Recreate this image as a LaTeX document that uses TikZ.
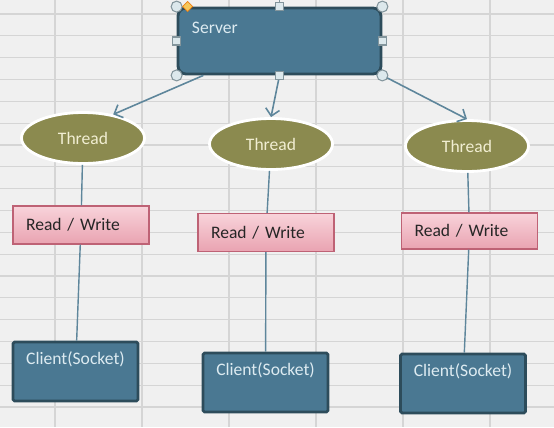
\documentclass[tikz,border=0pt]{standalone}
\usepackage{fontspec}
\setmainfont{Carlito}
\usepackage{tikz}
\usetikzlibrary{calc,arrows.meta,shapes.geometric}
\definecolor{sheet}{HTML}{F0F0F0}
\definecolor{gridln}{HTML}{D5D5D5}
\definecolor{boxfill}{HTML}{4A7892}
\definecolor{boxedge}{HTML}{2D4C5B}
\definecolor{boxtext}{HTML}{DDEBF1}
\definecolor{olive}{HTML}{8B8A4F}
\definecolor{olivetext}{HTML}{F1EED2}
\definecolor{pinktop}{HTML}{F8D3DA}
\definecolor{pinkbot}{HTML}{E9A3B1}
\definecolor{pinkedge}{HTML}{BE6275}
\definecolor{link}{HTML}{5E869B}
\definecolor{handle}{HTML}{DCE8EC}
\definecolor{handleedge}{HTML}{83959C}
\definecolor{gold}{HTML}{F5C75A}
\tikzset{
  gridline/.style={draw=gridln, line width=0.7pt},
  txt/.style={font=\fontsize{10}{12}\selectfont},
  serverbox/.style={draw=boxedge, fill=boxfill, line width=1.6pt, rounded corners=0.16cm, minimum width=4.06cm, minimum height=1.32cm, inner sep=0pt},
  clientbox/.style={draw=boxedge, fill=boxfill, line width=1.6pt, rounded corners=0.03cm, minimum width=2.5cm, minimum height=1.18cm, inner sep=0pt},
  boxlbl/.style={txt, text=boxtext, inner sep=0pt},
  thread/.style={ellipse, draw=white, fill=olive, line width=1.6pt, minimum width=2.46cm, minimum height=1.02cm, inner sep=0pt, txt, text=olivetext},
  rwbox/.style={draw=pinkedge, top color=pinktop, bottom color=pinkbot, line width=0.7pt, minimum width=2.72cm, minimum height=0.76cm, inner xsep=0.26cm, text width=2.2cm, align=left, txt, text=black!85},
  arrow/.style={draw=link, line width=0.9pt, -{Straight Barb[length=4pt,width=8pt]}},
  wire/.style={draw=link, line width=0.8pt},
  handlec/.style={draw=handleedge, fill=handle, line width=0.6pt},
}
\begin{document}
\begin{tikzpicture}[x=0.02cm, y=-0.02cm]
  \fill[sheet] (0,0) rectangle (554,427);
  \useasboundingbox (0,0) rectangle (554,427);
  \foreach \x in {55,142,229,316,403,490} {\draw[gridline] (\x,0) -- (\x,427);}
  \foreach \k in {0,...,18} {\draw[gridline] (0,14+21.83*\k) -- (554,14+21.83*\k);}

  \node[serverbox, label={[boxlbl, anchor=west, xshift=0.3cm, yshift=-0.42cm]north west:Server}] (server) at (279.5,41) {};
  \node[thread] (t1) at (83,138) {Thread};
  \node[thread] (t2) at (271,144) {Thread};
  \node[thread] (t3) at (467,146) {Thread};
  \node[rwbox] (rw1) at (81,225) {Read / Write};
  \node[rwbox] (rw2) at (266,232.5) {Read / Write};
  \node[rwbox, minimum width=2.7cm, minimum height=0.72cm] (rw3) at (469.5,231) {Read / Write};
  \node[clientbox, label={[boxlbl, anchor=center, yshift=-0.38cm]north:Client(Socket)}] (c1) at (75.5,371.5) {};
  \node[clientbox, label={[boxlbl, anchor=center, yshift=-0.38cm]north:Client(Socket)}] (c2) at (265.5,382.5) {};
  \node[clientbox, label={[boxlbl, anchor=center, yshift=-0.38cm]north:Client(Socket)}] (c3) at (463,383.5) {};

  \draw[arrow] ($(server.south west)!0.13!(server.south east)$) -- (t1.38);
  \draw[arrow] (server.south) -- (t2.north);
  \draw[arrow] (server.south east) -- (t3.north);
  \foreach \i in {1,2,3} {
    \draw[wire] (t\i) -- (rw\i);
    \draw[wire] (rw\i) -- (c\i);
  }

  \draw[handleedge, line width=0.6pt] (server.north) -- ++(0,-8);
  \foreach \p in {north west,north east,south west,south east} {\draw[handlec] (server.\p) circle (0.11cm);}
  \foreach \p in {north,south,west,east} {\draw[handlec] ($(server.\p)+(-4,-4)$) rectangle ++(8,8);}
  \draw[draw=orange!70!brown, fill=gold, line width=0.4pt] ($(server.north west)+(11,-5)$) -- ++(5,5) -- ++(-5,5) -- ++(-5,-5) -- cycle;
\end{tikzpicture}
\end{document}
